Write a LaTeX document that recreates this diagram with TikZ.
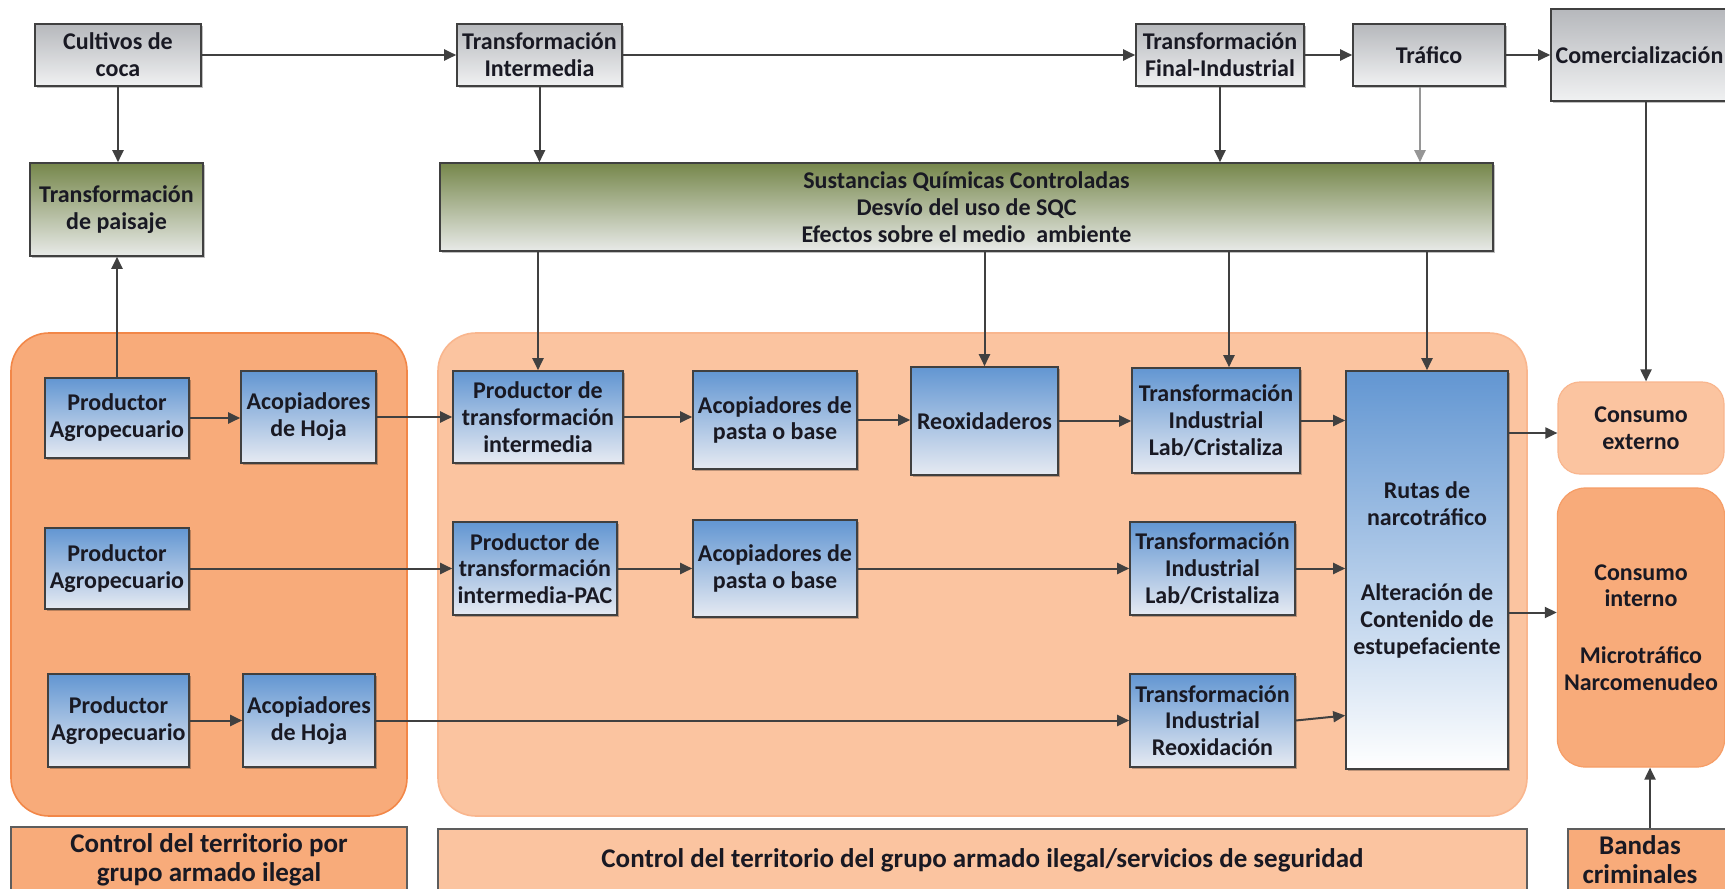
\documentclass[tikz,border=0pt]{standalone}
\usepackage{fontspec}
\setmainfont{Carlito}
\usetikzlibrary{arrows.meta,shadows,calc}
\definecolor{ink}{RGB}{25,25,35}
\definecolor{edge}{RGB}{64,64,64}
\definecolor{grayT}{RGB}{182,184,188}
\definecolor{grayB}{RGB}{240,241,242}
\definecolor{blueT}{RGB}{98,150,210}
\definecolor{blueB}{RGB}{230,234,242}
\definecolor{greenT}{RGB}{118,135,75}
\definecolor{greenB}{RGB}{232,234,232}
\definecolor{orD}{RGB}{248,171,122}
\definecolor{orDedge}{RGB}{242,135,72}
\definecolor{orL}{RGB}{251,196,160}
\definecolor{orLedge}{RGB}{249,182,142}
\newcommand\bx[7]{%
  \pgfmathsetmacro\bw{(#5-#3)*0.5}%
  \pgfmathsetmacro\bh{(#6-#4)*0.5}%
  \node[#1, minimum width=\bw pt, minimum height=\bh pt] (#2) at ({(#3+#5)/2},{(#4+#6)/2}) {#7};}
\tikzset{
  base/.style={draw=edge, line width=0.8pt, align=center, inner sep=1pt, text=ink,
    font=\fontsize{12}{13.4}\selectfont\bfseries,
    drop shadow={shadow xshift=1.2pt, shadow yshift=-1.2pt, opacity=0.25, fill=black}},
  graybox/.style={base, top color=grayT, bottom color=grayB},
  bluebox/.style={base, top color=blueT, bottom color=blueB},
  rutasbox/.style={base, top color=blueT, bottom color=white},
  greenbox/.style={base, top color=greenT, bottom color=greenB},
  regionD/.style={draw=orDedge, fill=orD, line width=0.8pt, rounded corners=19pt},
  regionL/.style={draw=orLedge, fill=orL, line width=0.8pt, rounded corners=19pt},
  consL/.style={draw=orLedge, fill=orL, line width=0.6pt, rounded corners=11pt, align=center, text=ink, font=\fontsize{12}{13.4}\selectfont\bfseries},
  consD/.style={draw=orDedge!40!orD, fill=orD, line width=0.6pt, rounded corners=14pt, align=center, text=ink, font=\fontsize{12}{13.4}\selectfont\bfseries},
  labD/.style={draw=edge!85, fill=orD, line width=0.8pt, align=center, text=ink, font=\fontsize{13.5}{14.5}\selectfont\bfseries},
  labL/.style={draw=edge!85, fill=orL, line width=0.8pt, align=center, text=ink, font=\fontsize{13.5}{14.5}\selectfont\bfseries},
  arr/.style={draw=edge, line width=1pt, -{Triangle[length=6pt,width=5.5pt]}},
}
\begin{document}
\begin{tikzpicture}[x=0.5pt,y=-0.5pt]
\useasboundingbox[fill=white] (0,0) rectangle (1725,889);
% regions
\bx{regionD}{regL}{11}{333}{407}{816}{}
\bx{regionL}{regM}{438}{333}{1527}{816}{}
% top row
\bx{graybox}{cult}{35}{24}{201}{86}{Cultivos de\\coca}
\bx{graybox}{ti}{457}{24}{622}{86}{Transformación\\Intermedia}
\bx{graybox}{tf}{1136}{24}{1304}{86}{Transformación\\Final-Industrial}
\bx{graybox}{traf}{1353}{24}{1505}{86}{Tráfico}
\bx{graybox}{com}{1551}{9}{1728}{101}{Comercialización}
% green
\bx{greenbox}{pais}{30}{163}{203}{256}{Transformación\\de paisaje}
\bx{greenbox}{sqc}{440}{163}{1493}{251}{Sustancias Químicas Controladas\\Desvío del uso de SQC\\Efectos sobre el medio\ \ ambiente}
% row 1
\bx{bluebox}{pa1}{45}{378}{189}{458}{Productor\\Agropecuario}
\bx{bluebox}{ah1}{241}{371}{376}{463}{Acopiadores\\de Hoja}
\bx{bluebox}{pti}{453}{371}{623}{463}{Productor de\\transformación\\intermedia}
\bx{bluebox}{ap1}{693}{371}{857}{469}{Acopiadores de\\pasta o base}
\bx{bluebox}{reox}{911}{367}{1058}{475}{Reoxidaderos}
\bx{bluebox}{ti1}{1132}{368}{1300}{473}{Transformación\\Industrial\\Lab/Cristaliza}
% row 2
\bx{bluebox}{pa2}{45}{528}{189}{609}{Productor\\Agropecuario}
\bx{bluebox}{ptipac}{453}{522}{617}{615}{Productor de\\transformación\\intermedia-PAC}
\bx{bluebox}{ap2}{693}{520}{857}{617}{Acopiadores de\\pasta o base}
\bx{bluebox}{ti2}{1130}{522}{1295}{615}{Transformación\\Industrial\\Lab/Cristaliza}
% row 3
\bx{bluebox}{pa3}{48}{674}{189}{767}{Productor\\Agropecuario}
\bx{bluebox}{ah3}{243}{674}{375}{767}{Acopiadores\\de Hoja}
\bx{bluebox}{tir}{1130}{674}{1295}{767}{Transformación\\Industrial\\Reoxidación}
% rutas
\bx{rutasbox}{rutas}{1346}{371}{1508}{769}{Rutas de\\narcotráfico\\[24pt]Alteración de\\Contenido de\\estupefaciente}
% consumo
\bx{consL}{cext}{1558}{382}{1724}{474}{Consumo\\externo}
\bx{consD}{cint}{1558}{488}{1724}{767}{Consumo\\interno\\[15pt]Microtráfico\\Narcomenudeo}
% bottom labels
\bx{labD}{labA}{11}{829}{407}{891}{Control del territorio por\\grupo armado ilegal}
\bx{labL}{labB}{438}{829}{1527}{891}{Control del territorio del grupo armado ilegal/servicios de seguridad}
\bx{labD}{labC}{1568}{829}{1740}{891}{\hspace*{-14pt}Bandas\\\hspace*{-14pt}criminales}
% top arrows
\draw[arr] (cult.east) -- (ti.west);
\draw[arr] (ti.east) -- (tf.west);
\draw[arr] (tf.east) -- (traf.west);
\draw[arr] (traf.east) -- (com.west);
\draw[arr] (cult.south) -- (cult.south |- pais.north);
\draw[arr] (ti.south) -- (ti.south |- sqc.north);
\draw[arr] (tf.south) -- (tf.south |- sqc.north);
\draw[arr, draw=edge!55] ($(traf.south)+(-9,0)$) -- ($(traf.south |- sqc.north)+(-9,0)$);
\draw[arr] (pa1.north) -- (pa1.north |- pais.south);
% down from SQC
\draw[arr] (sqc.south -| pti.north) -- (pti.north);
\draw[arr] (sqc.south -| reox.north) -- (reox.north);
\draw[arr] ($(sqc.south -| ti1.north)+(13,0)$) -- ($(ti1.north)+(13,0)$);
\draw[arr] (sqc.south -| rutas.north) -- (rutas.north);
\draw[arr] ($(com.south -| cext.north)+(5,0)$) -- ($(cext.north)+(5,0)$);
% row 1
\draw[arr] (pa1.east) -- (pa1.east -| ah1.west);
\draw[arr] (ah1.east) -- (ah1.east -| pti.west);
\draw[arr] (pti.east) -- (pti.east -| ap1.west);
\draw[arr] (ap1.east) -- (ap1.east -| reox.west);
\draw[arr] (reox.east) -- (reox.east -| ti1.west);
\draw[arr] (ti1.east) -- (ti1.east -| rutas.west);
% row 2
\draw[arr] (pa2.east) -- (pa2.east -| ptipac.west);
\draw[arr] (ptipac.east) -- (ptipac.east -| ap2.west);
\draw[arr] (ap2.east) -- (ap2.east -| ti2.west);
\draw[arr] (ti2.east) -- (ti2.east -| rutas.west);
% row 3
\draw[arr] (pa3.east) -- (pa3.east -| ah3.west);
\draw[arr] (ah3.east) -- (ah3.east -| tir.west);
\draw[arr] (tir.east) -- ($(tir.east -| rutas.west)+(0,-5)$);
% right side
\draw[arr] ($(rutas.east |- cext.west)+(0,5)$) -- ($(cext.west)+(0,5)$);
\draw[arr] ($(rutas.east |- cint.west)+(0,-15)$) -- ($(cint.west)+(0,-15)$);
\draw[arr] ($(labC.north -| cint.south)+(9,0)$) -- ($(cint.south)+(9,0)$);
\end{tikzpicture}
\end{document}
